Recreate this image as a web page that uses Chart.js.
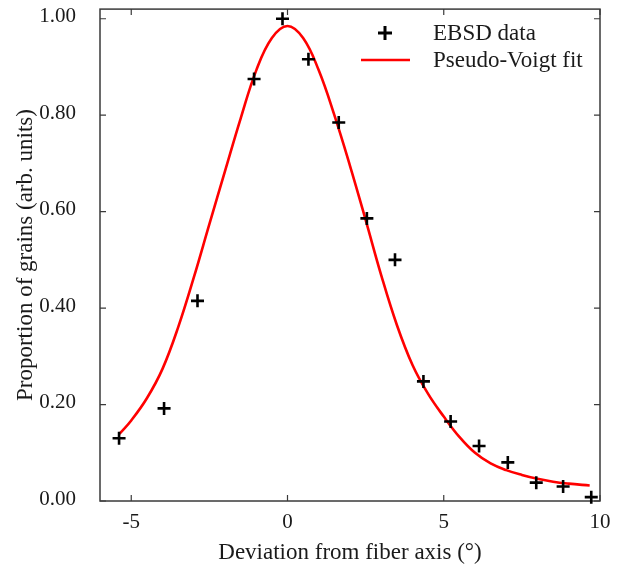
<!DOCTYPE html>
<html><head><meta charset="utf-8">
<script src="https://cdn.jsdelivr.net/npm/chart.js@4"></script>
<style>html,body{margin:0;padding:0;background:#fff}#wrap{width:634px;height:573px}</style>
</head><body><div id="wrap"><canvas id="c" width="634" height="573"></canvas></div>
<script>
// EBSD measurements
const ebsdX = [-5.39, -3.95, -2.88, -1.07, -0.16, 0.67, 1.64, 2.54, 3.44, 4.35, 5.22, 6.13, 7.05, 7.96, 8.82, 9.72];
const ebsdY = [0.130, 0.192, 0.415, 0.875, 1.000, 0.916, 0.785, 0.586, 0.500, 0.248, 0.165, 0.114, 0.080, 0.038, 0.030, 0.008];
// Pseudo-Voigt fit curve
const fitX = [-5.38, -5.0, -4.5, -4.0, -3.5, -3.0, -2.5, -2.0, -1.5, -1.0, -0.5, 0.0, 0.5, 1.0, 1.5, 2.0, 2.5, 3.0, 3.5, 4.0, 4.5, 5.0, 5.5, 6.0, 6.5, 7.0, 7.5, 8.0, 8.5, 9.0, 9.67];
const fitY = [0.139, 0.167, 0.213, 0.274, 0.360, 0.463, 0.574, 0.684, 0.793, 0.893, 0.960, 0.985, 0.960, 0.893, 0.800, 0.695, 0.583, 0.468, 0.365, 0.282, 0.222, 0.175, 0.133, 0.100, 0.078, 0.064, 0.054, 0.046, 0.040, 0.036, 0.032];
// Axis ticks
const xTicks = [-5, 0, 5, 10];
const xTickLabels = ['-5', '0', '5', '10'];
const yTicks = [0, 0.2, 0.4, 0.6, 0.8, 1.0];
const yTickLabels = ['0.00', '0.20', '0.40', '0.60', '0.80', '1.00'];
const seriesLabels = ['EBSD data', 'Pseudo-Voigt fit'];
const xTitle = 'Deviation from fiber axis (°)';
const yTitle = 'Proportion of grains (arb. units)';

const SERIF = '"Liberation Serif", "DejaVu Serif", serif';
const TXT = '#1a1a1a';
const FRAME = '#3a3a3a';

function drawPlus(ctx, x, y, r, w, color) {
  ctx.save();
  ctx.strokeStyle = color; ctx.lineWidth = w;
  ctx.beginPath();
  ctx.moveTo(x - r, y); ctx.lineTo(x + r, y);
  ctx.moveTo(x, y - r); ctx.lineTo(x, y + r);
  ctx.stroke();
  ctx.restore();
}

const framePlugin = {
  id: 'frame',
  beforeDatasetsDraw(chart) {
    const {ctx, chartArea: a, scales: {x, y}} = chart;
    ctx.save();
    ctx.strokeStyle = FRAME;
    ctx.lineWidth = 1.5;
    ctx.strokeRect(a.left, a.top, a.right - a.left, a.bottom - a.top);
    ctx.lineWidth = 1.2;
    const L = 6;
    ctx.beginPath();
    xTicks.forEach(v => {
      const px = x.getPixelForValue(v);
      ctx.moveTo(px, a.bottom); ctx.lineTo(px, a.bottom - L);
      ctx.moveTo(px, a.top); ctx.lineTo(px, a.top + L);
    });
    yTicks.forEach(v => {
      const py = y.getPixelForValue(v);
      ctx.moveTo(a.left, py); ctx.lineTo(a.left + L, py);
      ctx.moveTo(a.right, py); ctx.lineTo(a.right - L, py);
    });
    ctx.stroke();
    ctx.restore();
  },
  afterDraw(chart) {
    const {ctx} = chart;
    const ds = chart.data.datasets;
    ctx.save();
    ctx.font = '23px ' + SERIF;
    ctx.fillStyle = TXT;
    ctx.textBaseline = 'middle';
    ctx.textAlign = 'left';
    drawPlus(ctx, 385, 33, 7, 3, '#000');
    ctx.fillText(ds[0].label, 433, 34);
    ctx.strokeStyle = '#ff0000'; ctx.lineWidth = 2.6;
    ctx.beginPath(); ctx.moveTo(361, 60); ctx.lineTo(410, 60); ctx.stroke();
    ctx.fillText(ds[1].label, 433, 61);
    ctx.restore();
  }
};

new Chart(document.getElementById('c'), {
  type: 'scatter',
  data: {
    datasets: [
      {
        label: seriesLabels[0],
        data: ebsdX.map((v, i) => ({x: v, y: ebsdY[i]})),
        pointStyle: 'cross',
        pointRadius: 6.5,
        pointHoverRadius: 6.5,
        pointBorderWidth: 2.6,
        borderColor: '#000',
        backgroundColor: '#000',
        showLine: false,
        clip: false
      },
      {
        label: seriesLabels[1],
        data: fitX.map((v, i) => ({x: v, y: fitY[i]})),
        showLine: true,
        pointRadius: 0,
        pointHoverRadius: 0,
        borderColor: '#ff0000',
        backgroundColor: '#ff0000',
        borderWidth: 2.6,
        tension: 0.4,
        fill: false
      }
    ]
  },
  options: {
    responsive: false,
    animation: false,
    devicePixelRatio: 1,
    layout: {padding: {top: 2, right: 34, left: 0, bottom: 0}},
    plugins: {legend: {display: false}, tooltip: {enabled: false}},
    scales: {
      x: {
        type: 'linear', min: -6, max: 10,
        afterBuildTicks: s => { s.ticks = xTicks.map(v => ({value: v})); },
        afterFit: s => { s.height = 72; s.paddingLeft = 0; s.paddingRight = 0; },
        grid: {display: false, drawTicks: false},
        border: {display: false},
        ticks: {
          callback: (v, i) => xTickLabels[i],
          font: {family: SERIF, size: 21},
          color: TXT, padding: 9, maxRotation: 0, autoSkip: false
        },
        title: {display: true, text: xTitle, font: {family: SERIF, size: 23}, color: TXT, padding: {top: 0, bottom: 6}}
      },
      y: {
        type: 'linear', min: 0, max: 1.02,
        afterBuildTicks: s => { s.ticks = yTicks.map(v => ({value: v})); },
        afterFit: s => { s.width = 100; s.paddingTop = 0; s.paddingBottom = 0; },
        grid: {display: false, drawTicks: false},
        border: {display: false},
        ticks: {
          callback: (v, i) => yTickLabels[i],
          font: {family: SERIF, size: 21},
          color: TXT, padding: 24, autoSkip: false, labelOffset: -2
        },
        title: {display: true, text: yTitle, font: {family: SERIF, size: 23}, color: TXT, padding: {top: 12, bottom: 0}}
      }
    }
  },
  plugins: [framePlugin]
});
</script>
</body></html>
